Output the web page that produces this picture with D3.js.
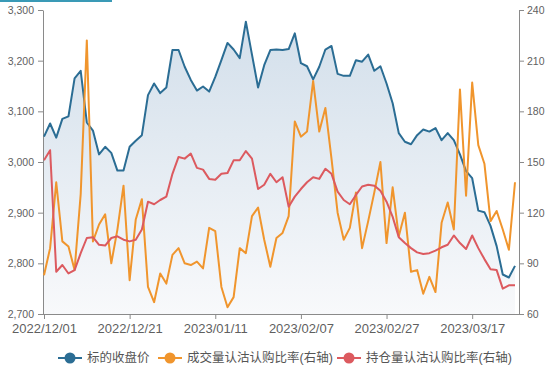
<!DOCTYPE html>
<html>
<head>
<meta charset="utf-8">
<script src="https://cdn.jsdelivr.net/npm/d3@7"></script>
<style>
  body { margin: 0; background: #fff; }
  svg { display: block; font-family: "Liberation Sans", "Noto Sans CJK SC", sans-serif; }
</style>
</head>
<body>
<svg id="chart" width="550" height="375"></svg>
<script>
// trading days, 2022/12/01 .. 2023/03/28
const dates = [
    "2022/12/01", "2022/12/02", "2022/12/05", "2022/12/06", "2022/12/07", "2022/12/08", "2022/12/09",
    "2022/12/12", "2022/12/13", "2022/12/14", "2022/12/15", "2022/12/16", "2022/12/19", "2022/12/20",
    "2022/12/21", "2022/12/22", "2022/12/23", "2022/12/26", "2022/12/27", "2022/12/28", "2022/12/29",
    "2022/12/30", "2023/01/03", "2023/01/04", "2023/01/05", "2023/01/06", "2023/01/09", "2023/01/10",
    "2023/01/11", "2023/01/12", "2023/01/13", "2023/01/16", "2023/01/17", "2023/01/18", "2023/01/19",
    "2023/01/20", "2023/01/30", "2023/01/31", "2023/02/01", "2023/02/02", "2023/02/03", "2023/02/06",
    "2023/02/07", "2023/02/08", "2023/02/09", "2023/02/10", "2023/02/13", "2023/02/14", "2023/02/15",
    "2023/02/16", "2023/02/17", "2023/02/20", "2023/02/21", "2023/02/22", "2023/02/23", "2023/02/24",
    "2023/02/27", "2023/02/28", "2023/03/01", "2023/03/02", "2023/03/03", "2023/03/06", "2023/03/07",
    "2023/03/08", "2023/03/09", "2023/03/10", "2023/03/13", "2023/03/14", "2023/03/15", "2023/03/16",
    "2023/03/17", "2023/03/20", "2023/03/21", "2023/03/22", "2023/03/23", "2023/03/24", "2023/03/27",
    "2023/03/28"
];

const closePrice = [
    3050, 3076, 3048, 3085, 3090, 3165, 3180, 3078, 3062, 3015, 3030, 3018, 2983, 2983,
    3030, 3042, 3053, 3132, 3155, 3136, 3147, 3221, 3221, 3188, 3162, 3141, 3149, 3139,
    3168, 3201, 3235, 3222, 3205, 3277, 3212, 3147, 3191, 3221, 3222, 3221, 3223, 3254,
    3195, 3189, 3163, 3188, 3222, 3229, 3174, 3170, 3170, 3201, 3198, 3212, 3180, 3189,
    3155, 3116, 3057, 3040, 3035, 3053, 3064, 3060, 3067, 3043, 3057, 3043, 3015, 2982,
    2968, 2904, 2901, 2874, 2834, 2778, 2772, 2795
];

const volumeRatio = [
    83, 99, 138, 103, 100, 86, 131, 222, 103, 113, 119, 90, 110, 136,
    80, 116, 128, 76, 67, 84, 78, 95, 99, 90, 89, 91, 87, 111,
    109, 76, 64, 70, 99, 96, 118, 123, 104, 88, 105, 108, 118, 174,
    165, 168, 198, 168, 182, 152, 120, 104, 111, 132, 99, 115, 132, 150,
    102, 135, 106, 120, 85, 86, 72, 82, 73, 114, 126, 110, 193, 130,
    197, 160, 149, 115, 121, 110, 98, 138
];

const oiRatio = [
    151, 157, 85, 89, 84, 86, 96, 105, 105.5, 101, 100.5, 105, 106, 104,
    103, 104, 110, 126.5, 125, 127.5, 129.5, 143, 153, 152, 155, 146.5, 145.5, 140,
    139.5, 143, 143.5, 151, 151, 156.5, 152, 134, 136.5, 143, 138, 141, 123.5, 129.5,
    134, 138, 141, 140, 146, 143, 132.5, 127.5, 125, 130.5, 135.5, 136.5, 136, 133,
    126.5, 117.5, 105.5, 102, 99, 96.5, 95.5, 96, 97.5, 99.5, 101, 106.5, 102, 98.5,
    106.5, 99, 92.5, 86.5, 86, 75, 77, 77
];

const leftTicks = [2700, 2800, 2900, 3000, 3100, 3200, 3300];
const rightTicks = [60, 90, 120, 150, 180, 210, 240];
const xTickDates = ["2022/12/01", "2022/12/21", "2023/01/11", "2023/02/07", "2023/02/27", "2023/03/17"];
const seriesNames = ["标的收盘价", "成交量认沽认购比率(右轴)", "持仓量认沽认购比率(右轴)"];

const colors = { close: "#2b6d94", volume: "#f0952d", oi: "#dc5a5f", axis: "#8a8a8a", label: "#5f5f5f" };

const svg = d3.select("#chart");
const plot = { left: 43, right: 519, top: 10, bottom: 314 };

const x = d3.scalePoint().domain(dates).range([44, 515]);
const yL = d3.scaleLinear().domain([2700, 3300]).range([plot.bottom, plot.top]);
const yR = d3.scaleLinear().domain([60, 240]).range([plot.bottom, plot.top]);

// thin header strip at the top left
svg.append("rect").attr("x", 0).attr("y", 0).attr("width", 112).attr("height", 2).attr("fill", "#3a9ab6");

// area gradient under the close price
const defs = svg.append("defs");
const grad = defs.append("linearGradient")
    .attr("id", "closeFill")
    .attr("gradientUnits", "userSpaceOnUse")
    .attr("x1", 0).attr("y1", plot.top).attr("x2", 0).attr("y2", plot.bottom);
grad.append("stop").attr("offset", 0).attr("stop-color", "#d1deea");
grad.append("stop").attr("offset", 1).attr("stop-color", "#f8f9fb");

svg.append("path")
    .datum(closePrice)
    .attr("fill", "url(#closeFill)")
    .attr("d", d3.area()
        .x((d, i) => x(dates[i]))
        .y0(yL(2700))
        .y1(d => yL(d)));

// axes
const styleAxis = g => {
    g.selectAll(".domain").attr("stroke", colors.axis);
    g.selectAll(".tick line").attr("stroke", colors.axis);
    g.selectAll(".tick text").attr("fill", colors.label);
};

svg.append("g")
    .attr("transform", `translate(${plot.left},0)`)
    .call(d3.axisLeft(yL).tickValues(leftTicks).tickFormat(d3.format(",")).tickSize(5).tickPadding(4).tickSizeOuter(0))
    .call(g => g.selectAll("text").attr("font-size", 10.5).attr("font-family", null))
    .call(styleAxis);

svg.append("g")
    .attr("transform", `translate(${plot.right},0)`)
    .call(d3.axisRight(yR).tickValues(rightTicks).tickSize(5).tickPadding(3).tickSizeOuter(0))
    .call(g => g.selectAll("text").attr("font-size", 10.5).attr("font-family", null))
    .call(styleAxis);

svg.append("g")
    .attr("transform", `translate(0,${plot.bottom})`)
    .call(d3.axisBottom(x).tickValues(xTickDates).tickSize(5).tickPadding(5).tickSizeOuter(0))
    .call(g => g.select(".domain").attr("d", `M${plot.left},0.5H${plot.right}`))
    .call(g => g.selectAll("text").attr("font-size", 13).attr("font-family", null))
    .call(styleAxis);

// lines
const drawLine = (values, scale, color) => {
    svg.append("path")
        .datum(values)
        .attr("fill", "none")
        .attr("stroke", color)
        .attr("stroke-width", 2)
        .attr("stroke-linejoin", "round")
        .attr("d", d3.line()
            .x((d, i) => x(dates[i]))
            .y(d => scale(d)));
};

drawLine(closePrice, yL, colors.close);
drawLine(volumeRatio, yR, colors.volume);
drawLine(oiRatio, yR, colors.oi);

// legend
const legendColors = [colors.close, colors.volume, colors.oi];
const legendX = [70, 170, 349];
const legend = svg.append("g").attr("transform", "translate(0,358)");

seriesNames.forEach((name, i) => {
    const item = legend.append("g").attr("transform", `translate(${legendX[i]},0)`);
    item.append("line")
        .attr("x1", -12).attr("x2", 12)
        .attr("stroke", legendColors[i]).attr("stroke-width", 2);
    item.append("circle")
        .attr("r", 5.5)
        .attr("fill", legendColors[i]);
    item.append("text")
        .attr("x", 17)
        .attr("dy", "0.35em")
        .attr("font-size", 12.5)
        .attr("fill", "#555")
        .text(name);
});
</script>
</body>
</html>
